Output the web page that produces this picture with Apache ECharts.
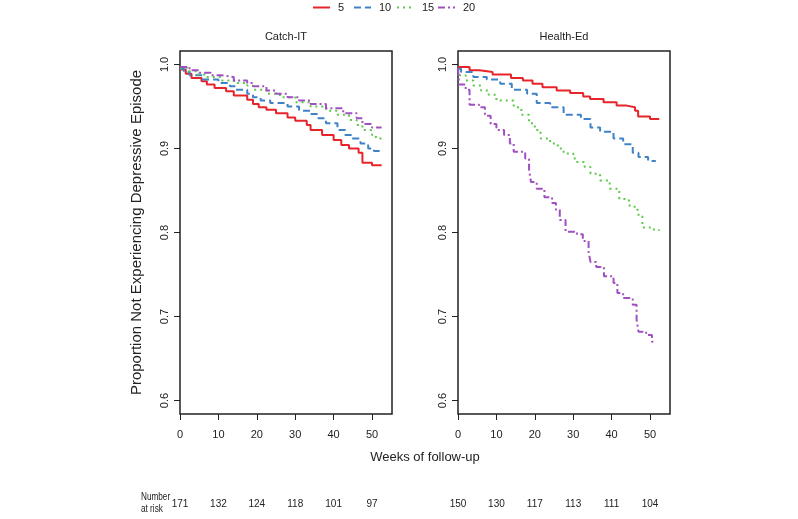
<!DOCTYPE html>
<html>
<head>
<meta charset="utf-8">
<script src="https://cdn.jsdelivr.net/npm/echarts@6/dist/echarts.min.js"></script>
<style>
  html, body { margin: 0; padding: 0; background: #fff; }
  #chart { width: 798px; height: 519px; }
</style>
</head>
<body>
<div id="chart"></div>
<script>
  // tick labels
  const weekTicks = [0, 10, 20, 30, 40, 50];
  const propTicks = [0.6, 0.7, 0.8, 0.9, 1.0];
  const groups = ['5', '10', '15', '20'];
  const panels = ['Catch-IT', 'Health-Ed'];

  // number at risk under each week tick
  const riskCatch = [171, 132, 124, 118, 101, 97];
  const riskHealth = [150, 130, 117, 113, 111, 104];

  // Kaplan-Meier steps [week, proportion]
  const catch5 = [[0, 0.994], [1.5, 0.989], [3, 0.984], [5.6, 0.98], [7, 0.976], [9, 0.972], [12, 0.968], [14, 0.963],
    [17.5, 0.958], [19, 0.953], [20.5, 0.949], [22.5, 0.946], [25, 0.942], [28, 0.937], [30, 0.933], [33, 0.928],
    [34, 0.922], [37, 0.916], [40, 0.91], [42, 0.904], [44, 0.9], [46.5, 0.895], [47.5, 0.883], [50, 0.88], [52.5, 0.88]];
  const catch10 = [[0, 0.995], [1, 0.991], [2.5, 0.987], [6, 0.982], [10, 0.978], [13, 0.974], [14.5, 0.97], [17.5, 0.965],
    [19, 0.961], [21, 0.957], [23.5, 0.954], [28, 0.95], [31, 0.945], [34, 0.941], [36, 0.936], [38, 0.93], [41, 0.922],
    [43, 0.916], [45, 0.912], [47, 0.906], [49, 0.9], [50.5, 0.897], [52.5, 0.897]];
  const catch15 = [[0, 0.996], [2, 0.992], [4.5, 0.988], [7, 0.985], [10.5, 0.981], [14, 0.978], [17.5, 0.975], [19, 0.97],
    [22.5, 0.965], [26, 0.961], [30, 0.955], [34, 0.95], [38, 0.945], [41, 0.94], [44, 0.934], [46, 0.928], [47.5, 0.922],
    [50, 0.916], [51, 0.912], [52.5, 0.912]];
  const catch20 = [[0, 0.997], [2.5, 0.993], [5, 0.99], [8, 0.987], [11, 0.985], [14, 0.981], [17.5, 0.978], [19, 0.974],
    [22.5, 0.969], [25, 0.965], [28, 0.961], [31, 0.957], [34, 0.953], [38, 0.948], [42.5, 0.942], [46, 0.936],
    [47.5, 0.929], [50, 0.925], [52.5, 0.925]];

  const health5 = [[0, 0.997], [3, 0.993], [5.6, 0.991], [9, 0.988], [13.8, 0.984], [16.9, 0.981], [19.4, 0.977], [22, 0.973],
    [25.7, 0.969], [29.2, 0.966], [32.6, 0.962], [34.4, 0.959], [37.9, 0.955], [41.3, 0.951], [43.9, 0.949], [46.1, 0.945],
    [46.9, 0.938], [50, 0.935], [52.4, 0.935]];
  const health10 = [[0, 0.995], [0.8, 0.991], [4, 0.985], [7.5, 0.982], [11, 0.977], [14, 0.97], [18, 0.965], [20.5, 0.954],
    [24, 0.949], [27.5, 0.94], [32, 0.935], [34.5, 0.925], [37, 0.92], [40.5, 0.912], [43, 0.905], [45.5, 0.895], [47, 0.89],
    [49.5, 0.885], [51.5, 0.885]];
  const health15 = [[0, 0.995], [0.5, 0.987], [2, 0.981], [4, 0.975], [6, 0.969], [8, 0.964], [10, 0.957], [14.5, 0.949],
    [16.5, 0.94], [18.5, 0.93], [20, 0.922], [21.5, 0.912], [24, 0.906], [26, 0.9], [27.5, 0.894], [30, 0.888], [31, 0.884],
    [33, 0.878], [34.5, 0.87], [37, 0.862], [39.5, 0.852], [42, 0.84], [44.5, 0.832], [46, 0.827], [47, 0.819], [48, 0.806],
    [51, 0.803], [52.5, 0.803]];
  const health20 = [[0, 0.995], [0.3, 0.976], [2, 0.97], [3, 0.952], [5.5, 0.949], [7, 0.939], [8.5, 0.929], [10, 0.922],
    [12, 0.916], [13.5, 0.906], [14.5, 0.896], [17.5, 0.888], [18.5, 0.875], [19, 0.86], [20.5, 0.852], [22.5, 0.842],
    [24.5, 0.835], [25.5, 0.827], [26.5, 0.815], [28, 0.801], [31, 0.798], [32.5, 0.79], [34, 0.777], [34.5, 0.765],
    [36, 0.759], [38, 0.748], [40.5, 0.74], [41.5, 0.728], [43, 0.722], [45.5, 0.714], [46.5, 0.696], [47, 0.682],
    [49, 0.678], [50.5, 0.67], [51.5, 0.67]];

  const colors = ['#e8242b', '#3f82c8', '#5cc94a', '#a050c0'];
  const dashes = ['solid', [7, 4], [2, 4], [7, 3, 2, 3]];
  const font = '"Liberation Sans", Arial, sans-serif';
  const ink = '#222';

  const gridTop = 51, gridH = 363, gridW = 212;
  const gridLefts = [180, 458];
  const legendLefts = [312, 353, 396, 437];

  function makeSeries(name, data, idx, panel) {
    return {
      name: name,
      type: 'line',
      step: 'end',
      xAxisIndex: panel,
      yAxisIndex: panel,
      data: data,
      showSymbol: false,
      symbol: 'none',
      silent: true,
      lineStyle: { color: colors[idx], width: 2, type: dashes[idx] },
      itemStyle: { color: colors[idx] },
    };
  }

  const xAxes = [];
  const yAxes = [];
  [0, 1].forEach((p) => {
    xAxes.push({
      type: 'value',
      gridIndex: p,
      min: 0,
      max: 55.2,
      axisLine: { show: false },
      splitLine: { show: false },
      axisTick: { show: true, length: 6, customValues: weekTicks, lineStyle: { color: ink, width: 1 } },
      axisLabel: { customValues: weekTicks, margin: 15, color: ink, fontSize: 11, fontFamily: font },
    });
    yAxes.push({
      type: 'value',
      gridIndex: p,
      min: 0.584,
      max: 1.016,
      axisLine: { show: false },
      splitLine: { show: false },
      axisTick: { show: true, length: 6, customValues: propTicks, lineStyle: { color: ink, width: 1 } },
      axisLabel: {
        customValues: propTicks, rotate: 90, margin: 10, color: ink, fontSize: 11, fontFamily: font,
        formatter: (v) => v.toFixed(1),
      },
      name: p === 0 ? 'Proportion Not Experiencing Depressive Episode' : '',
      nameLocation: 'middle',
      nameGap: 36,
      nameTextStyle: { fontSize: 15, color: ink, fontFamily: font },
    });
  });
  // extra label-only axes for the number at risk row
  [riskCatch, riskHealth].forEach((risk, p) => {
    xAxes.push({
      type: 'value',
      gridIndex: p,
      min: 0,
      max: 55.2,
      position: 'bottom',
      offset: 81,
      axisLine: { show: false },
      axisTick: { show: false },
      splitLine: { show: false },
      axisLabel: {
        customValues: weekTicks, margin: 4, color: ink, fontSize: 10, fontFamily: font,
        formatter: (v) => String(risk[weekTicks.indexOf(v)]),
      },
    });
  });

  const option = {
    animation: false,
    backgroundColor: '#fff',
    legend: groups.map((g, i) => ({
      data: [g],
      left: legendLefts[i],
      top: 2,
      padding: 0,
      itemWidth: 17,
      itemHeight: 10,
      itemStyle: { opacity: 0 },
      textStyle: { fontSize: 11, color: ink, fontFamily: font, padding: [0, 0, 0, 3] },
    })),
    grid: gridLefts.map((l) => ({
      left: l,
      top: gridTop,
      width: gridW,
      height: gridH,
      show: true,
      borderColor: ink,
      borderWidth: 1.5,
    })),
    xAxis: xAxes,
    yAxis: yAxes,
    graphic: [
      { type: 'text', x: 286, y: 37, style: { text: panels[0], fill: ink, font: '11px ' + font, textAlign: 'center', textVerticalAlign: 'middle' } },
      { type: 'text', x: 564, y: 37, style: { text: panels[1], fill: ink, font: '11px ' + font, textAlign: 'center', textVerticalAlign: 'middle' } },
      { type: 'text', x: 425, y: 457, style: { text: 'Weeks of follow-up', fill: ink, font: '13px ' + font, textAlign: 'center', textVerticalAlign: 'middle' } },
      { type: 'text', x: 141, y: 497, scaleX: 0.82, style: { text: 'Number', fill: ink, font: '10px ' + font, textAlign: 'left', textVerticalAlign: 'middle' } },
      { type: 'text', x: 141, y: 509, scaleX: 0.82, style: { text: 'at risk', fill: ink, font: '10px ' + font, textAlign: 'left', textVerticalAlign: 'middle' } },
    ],
    series: [
      makeSeries('5', catch5, 0, 0),
      makeSeries('10', catch10, 1, 0),
      makeSeries('15', catch15, 2, 0),
      makeSeries('20', catch20, 3, 0),
      makeSeries('5', health5, 0, 1),
      makeSeries('10', health10, 1, 1),
      makeSeries('15', health15, 2, 1),
      makeSeries('20', health20, 3, 1),
    ],
  };

  const chart = echarts.init(document.getElementById('chart'), null, { renderer: 'canvas' });
  chart.setOption(option);
</script>
</body>
</html>
